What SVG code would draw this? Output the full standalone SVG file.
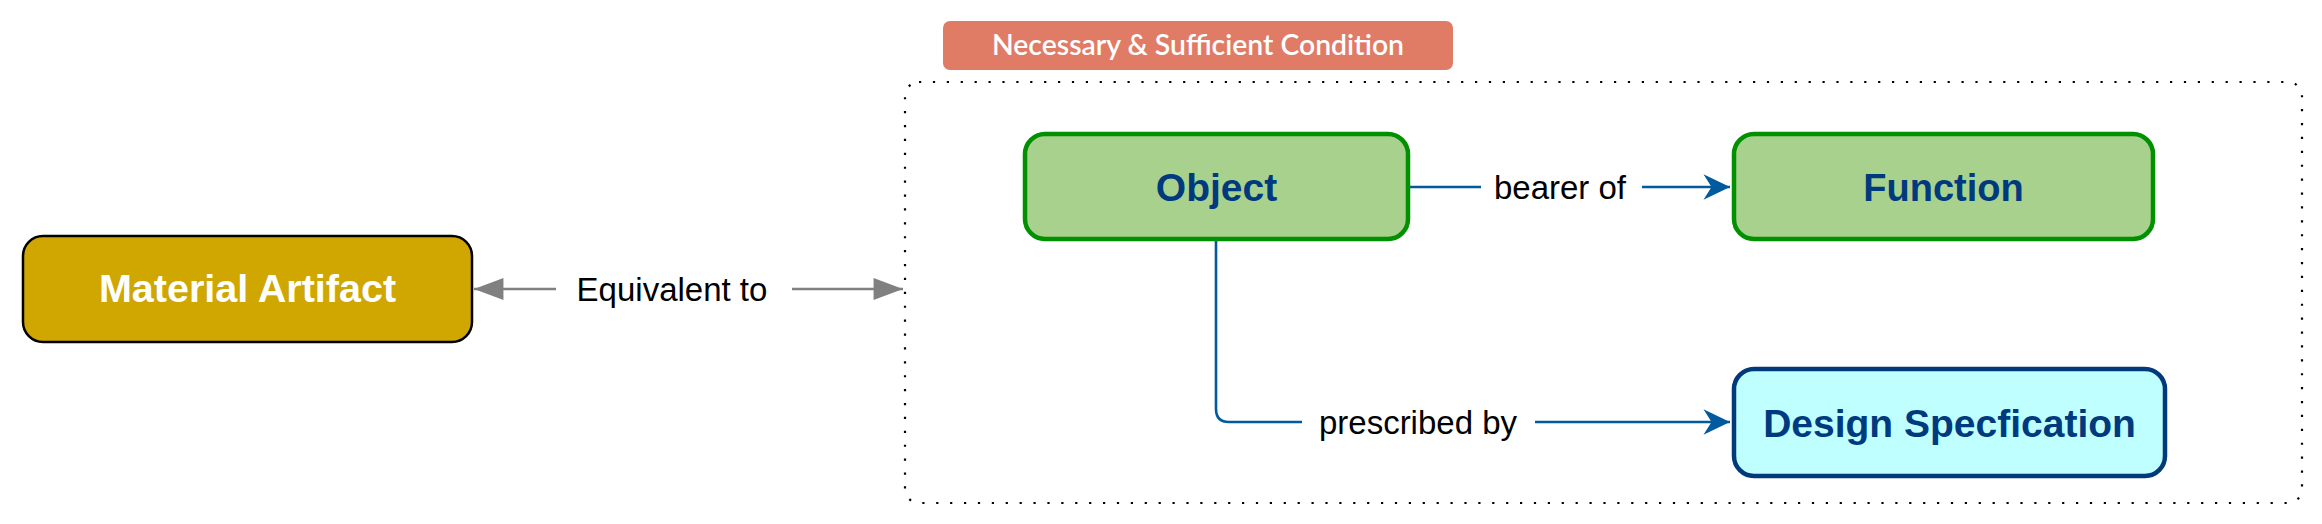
<svg xmlns="http://www.w3.org/2000/svg" width="2322" height="524" viewBox="0 0 2322 524">
  <style>
    .node-text { font-family: "Liberation Sans", Arial, Helvetica, sans-serif; font-weight: bold; text-anchor: middle; }
    .edge-label { font-family: "Liberation Sans", Arial, Helvetica, sans-serif; font-size: 33px; fill: #000000; text-anchor: middle; }
    .green { fill: #a9d18e; stroke: #009000; stroke-width: 4.5; }
    .blue-line { fill: none; stroke: #005a9e; stroke-width: 2.6; }
    .grey-line { fill: none; stroke: #808080; stroke-width: 2.6; }
  </style>
  <defs>
    <marker id="blueArrow" markerUnits="userSpaceOnUse" markerWidth="30" markerHeight="30" viewBox="-24 -12 26 24" refX="0" refY="0" orient="auto">
      <path d="M0,0 L-23,-11 L-16,0 L-23,11 Z" fill="#005a9e"/>
    </marker>
    <marker id="greyArrow" markerUnits="userSpaceOnUse" markerWidth="32" markerHeight="24" viewBox="-28 -11 29 22" refX="0" refY="0" orient="auto-start-reverse">
      <path d="M0,0 L-27,-10 L-27,10 Z" fill="#808080"/>
    </marker>
  </defs>

  <g id="container">
    <rect x="905" y="82" width="1397" height="421" rx="14" ry="14" fill="none" stroke="#000000" stroke-width="2.2" stroke-dasharray="2.2 11.7"/>
  </g>

  <g id="condition-label">
    <rect x="943" y="21" width="510" height="49" rx="7" ry="7" fill="#e07c66"/>
    <text x="1198" y="55" font-family="Lato, 'Open Sans', sans-serif" font-size="29" font-weight="600" fill="#ffffff" text-anchor="middle" textLength="412" lengthAdjust="spacingAndGlyphs">Necessary &amp; Sufficient Condition</text>
  </g>

  <g id="connectors">
    <g id="edge-equivalent">
      <line class="grey-line" x1="474" y1="289" x2="556" y2="289" marker-start="url(#greyArrow)"/>
      <line class="grey-line" x1="792" y1="289" x2="903" y2="289" marker-end="url(#greyArrow)"/>
      <text class="edge-label" x="672" y="301">Equivalent to</text>
    </g>
    <g id="edge-bearer">
      <line class="blue-line" x1="1410" y1="187" x2="1481" y2="187"/>
      <line class="blue-line" x1="1642" y1="187" x2="1730" y2="187" marker-end="url(#blueArrow)"/>
      <text class="edge-label" x="1560" y="199">bearer of</text>
    </g>
    <g id="edge-prescribed">
      <path class="blue-line" d="M1216,241 V409 Q1216,422 1229,422 H1302"/>
      <line class="blue-line" x1="1535" y1="422" x2="1730" y2="422" marker-end="url(#blueArrow)"/>
      <text class="edge-label" x="1418" y="434">prescribed by</text>
    </g>
  </g>

  <g id="node-material-artifact">
    <rect x="23" y="236" width="449" height="106" rx="20" ry="20" fill="#cfa700" stroke="#000000" stroke-width="2.5"/>
    <text class="node-text" x="247.5" y="302" font-size="39.5" fill="#ffffff">Material Artifact</text>
  </g>

  <g id="node-object">
    <rect class="green" x="1025" y="134" width="383" height="105" rx="20" ry="20"/>
    <text class="node-text" x="1216.5" y="201" font-size="39" fill="#003a7e">Object</text>
  </g>

  <g id="node-function">
    <rect class="green" x="1734" y="134" width="419" height="105" rx="20" ry="20"/>
    <text class="node-text" x="1943.5" y="201" font-size="38" fill="#003a7e">Function</text>
  </g>

  <g id="node-design-specification">
    <rect x="1734" y="369" width="431" height="107" rx="20" ry="20" fill="#bfffff" stroke="#003a7a" stroke-width="4.5"/>
    <text class="node-text" x="1949.5" y="437" font-size="39" fill="#003a7e">Design Specfication</text>
  </g>
</svg>
